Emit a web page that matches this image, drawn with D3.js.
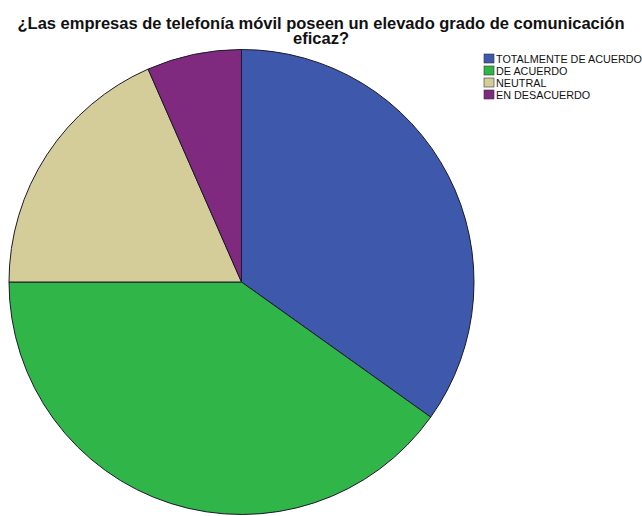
<!DOCTYPE html>
<html>
<head>
<meta charset="utf-8">
<script src="https://cdn.jsdelivr.net/npm/d3@7"></script>
<style>
  html, body { margin: 0; padding: 0; background: #fff; }
  svg { display: block; }
</style>
</head>
<body>
<svg id="chart" width="642" height="516"></svg>
<script>
// Responses to the survey question
const categories = ["TOTALMENTE DE ACUERDO", "DE ACUERDO", "NEUTRAL", "EN DESACUERDO"];
const counts = [53, 61, 28, 10];
const colors = ["#3e58ab", "#2fb548", "#d4cd9a", "#7f2a7e"];
const titleLines = ["¿Las empresas de telefonía móvil poseen un elevado grado de comunicación", "eficaz?"];

const svg = d3.select("#chart");

// Title, two centred lines
svg.append("g")
  .selectAll("text")
  .data(titleLines)
  .join("text")
  .attr("x", 321)
  .attr("y", (d, i) => 29 + i * 15)
  .attr("text-anchor", "middle")
  .style("font-family", "'Liberation Sans', Arial, sans-serif")
  .style("font-weight", "bold")
  .style("font-size", "16.5px")
  .attr("fill", "#111")
  .text(d => d);

// Pie
const cx = 241.5, cy = 282, r = 232.5;
const pie = d3.pie().sort(null).value(d => d.value);
const arc = d3.arc().innerRadius(0).outerRadius(r);
const data = categories.map((c, i) => ({ name: c, value: counts[i], color: colors[i] }));

const g = svg.append("g").attr("transform", `translate(${cx},${cy})`);
g.selectAll("path")
  .data(pie(data))
  .join("path")
  .attr("d", arc)
  .attr("fill", d => d.data.color)
  .attr("stroke", "#1a1a2a")
  .attr("stroke-width", 1)
  .attr("stroke-linejoin", "round");

// Legend
const legend = svg.append("g").attr("transform", "translate(484,54)");
const rows = legend.selectAll("g")
  .data(data)
  .join("g")
  .attr("transform", (d, i) => `translate(0,${i * 12})`);
rows.append("rect")
  .attr("x", 0).attr("y", 0)
  .attr("width", 10).attr("height", 9)
  .attr("fill", d => d.color)
  .attr("stroke", "#333")
  .attr("stroke-width", 0.6);
rows.append("text")
  .attr("x", 12).attr("y", 9)
  .style("font-family", "'Liberation Sans', Arial, sans-serif")
  .style("font-size", "10.8px")
  .attr("fill", "#111")
  .text(d => d.name);
</script>
</body>
</html>
